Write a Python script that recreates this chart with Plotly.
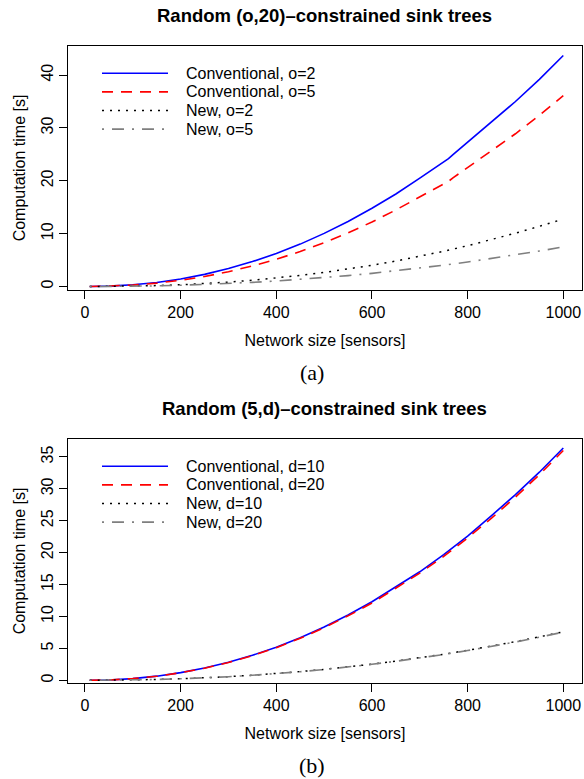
import plotly.graph_objects as go

# ---------------- data ----------------
sizes = [10, 50, 100, 150, 200, 250, 300, 350, 400, 450, 500, 550, 600, 650,
         700, 750, 760, 770, 800, 850, 900, 950, 1000]
conv_o2 = [0.0, 0.08, 0.33, 0.78, 1.44, 2.31, 3.40, 4.72, 6.25, 8.03, 10.06, 12.31,
           14.8, 17.5, 20.5, 23.5, 24.2, 25.0, 27.3, 31.0, 35.0, 39.2, 43.7]
conv_o5 = [0.0, 0.06, 0.27, 0.65, 1.19, 1.91, 2.81, 3.90, 5.16, 6.63, 8.31, 10.17,
           12.2, 14.5, 16.9, 19.4, 19.9, 20.6, 22.5, 25.6, 28.9, 32.4, 36.1]

sizes_new_o2 = [10, 50, 100, 150, 200, 250, 300, 350, 400, 450, 500, 550, 600, 650,
                700, 750, 800, 850, 900, 950, 990]
new_o2 = [0.0, 0.02, 0.07, 0.18, 0.34, 0.56, 0.84, 1.19, 1.61, 2.11, 2.67, 3.32,
          4.03, 4.83, 5.72, 6.68, 7.73, 8.87, 10.09, 11.39, 12.5]

sizes_b = [10, 50, 100, 150, 200, 250, 300, 350, 400, 450, 500, 550, 600, 650,
           700, 750, 800, 850, 900, 950, 1000]
new_o5 = [0.0, 0.01, 0.05, 0.13, 0.24, 0.38, 0.56, 0.79, 1.05, 1.35, 1.69, 2.07,
          2.50, 2.97, 3.48, 4.04, 4.64, 5.29, 5.98, 6.72, 7.5]

conv_d10 = [0.0, 0.06, 0.27, 0.65, 1.20, 1.92, 2.83, 3.92, 5.19, 6.67, 8.36, 10.23,
            12.3, 14.6, 17.0, 19.7, 22.6, 25.8, 29.1, 32.6, 36.4]
conv_d20 = [0.0, 0.06, 0.27, 0.64, 1.18, 1.90, 2.79, 3.87, 5.12, 6.58, 8.25, 10.10,
            12.1, 14.4, 16.8, 19.4, 22.3, 25.4, 28.7, 32.2, 36.0]
new_d10 = [0.0, 0.01, 0.05, 0.13, 0.24, 0.38, 0.57, 0.80, 1.06, 1.37, 1.71, 2.10,
           2.53, 3.01, 3.52, 4.09, 4.70, 5.36, 6.06, 6.81, 7.6]
new_d20 = [0.0, 0.01, 0.05, 0.13, 0.24, 0.38, 0.56, 0.79, 1.05, 1.35, 1.69, 2.08,
           2.51, 2.98, 3.49, 4.05, 4.66, 5.31, 6.00, 6.75, 7.55]

x_ticks = [0, 200, 400, 600, 800, 1000]
y_ticks_a = [0, 10, 20, 30, 40]
y_ticks_b = [0, 5, 10, 15, 20, 25, 30, 35]

titles = ["Random (o,20)\u2013constrained sink trees", "Random (5,d)\u2013constrained sink trees"]
captions = ["(a)", "(b)"]
labels_a = ["Conventional, o=2", "Conventional, o=5", "New, o=2", "New, o=5"]
labels_b = ["Conventional, d=10", "Conventional, d=20", "New, d=10", "New, d=20"]

# ---------------- styles ----------------
W, H = 584, 779
SANS = "Liberation Sans, Arial, Helvetica, sans-serif"
SERIF = "Liberation Serif, Times New Roman, serif"
styles = [
    dict(color="#0000ff", width=1.6, dash="solid"),
    dict(color="#ff0000", width=1.6, dash="11px,8px"),
    dict(color="#000000", width=1.5, dash="2px,6px"),
    dict(color="#7f7f7f", width=1.6, dash="2px,8px,12px,8px"),
]

def fx(px):
    return px / W

def fy(py):
    return 1 - py / H

fig = go.Figure()

panels = [
    dict(xa="x", ya="y", series=[(sizes, conv_o2), (sizes, conv_o5), (sizes_new_o2, new_o2), (sizes_b, new_o5)],
         labels=labels_a, top=46, bottom=290, yr=[-0.65, 45.5], yt=y_ticks_a),
    dict(xa="x2", ya="y2", series=[(sizes_b, conv_d10), (sizes_b, conv_d20), (sizes_b, new_d10), (sizes_b, new_d20)],
         labels=labels_b, top=439, bottom=683, yr=[-0.42, 37.8], yt=y_ticks_b),
]

for p in panels:
    for (xs, ys), lab, st in zip(p["series"], p["labels"], styles):
        fig.add_trace(go.Scatter(x=xs, y=ys, mode="lines", name=lab, line=st,
                                 xaxis=p["xa"], yaxis=p["ya"], showlegend=False))

axis_common = dict(showline=True, mirror=True, linecolor="black", linewidth=1,
                   ticks="outside", ticklen=8, tickcolor="black", tickwidth=1,
                   showgrid=False, zeroline=False, automargin=False,
                   tickfont=dict(family=SANS, size=16, color="black"))

layout = dict(width=W, height=H, margin=dict(l=0, r=0, t=0, b=0),
              paper_bgcolor="white", plot_bgcolor="white", showlegend=False)

annotations = []
shapes = []
for i, p in enumerate(panels):
    sfx = "" if i == 0 else "2"
    layout["xaxis" + sfx] = dict(axis_common, domain=[fx(68), fx(582)], range=[-35.5, 1039.1],
                                 tickvals=x_ticks, anchor="y" + sfx,
                                 title=dict(text="Network size [sensors]", standoff=14,
                                            font=dict(family=SANS, size=16, color="black")))
    layout["yaxis" + sfx] = dict(axis_common, domain=[fy(p["bottom"]), fy(p["top"])], range=p["yr"],
                                 tickvals=p["yt"], tickangle=-90, anchor="x" + sfx,
                                 title=dict(text="Computation time [s]", standoff=8,
                                            font=dict(family=SANS, size=16, color="black")))
    # title
    annotations.append(dict(text="<b>" + titles[i] + "</b>", xref="paper", yref="paper",
                            x=fx(325), y=fy(p["top"] - 30.5), xanchor="center", yanchor="middle",
                            showarrow=False, font=dict(family=SANS, size=18.5, color="black")))
    # caption
    annotations.append(dict(text=captions[i], xref="paper", yref="paper",
                            x=fx(312), y=fy(p["bottom"] + 82), xanchor="center", yanchor="middle",
                            showarrow=False, font=dict(family=SERIF, size=22, color="black")))
    # legend (drawn manually, no box)
    for k, (lab, st) in enumerate(zip(p["labels"], styles)):
        ly = p["top"] + 27.3 + k * 18.6
        shapes.append(dict(type="line", xref="paper", yref="paper",
                           x0=fx(102), x1=fx(168), y0=fy(ly), y1=fy(ly),
                           line=dict(color=st["color"], width=st["width"], dash=st["dash"])))
        annotations.append(dict(text=lab, xref="paper", yref="paper", x=fx(184), y=fy(ly),
                                xanchor="left", yanchor="middle", showarrow=False,
                                font=dict(family=SANS, size=16, color="black")))

layout["annotations"] = annotations
layout["shapes"] = shapes
fig.update_layout(**layout)
fig.write_html("out.html", config={"displayModeBar": False},
               post_script="document.body.style.margin='0';document.body.style.overflow='hidden';")
